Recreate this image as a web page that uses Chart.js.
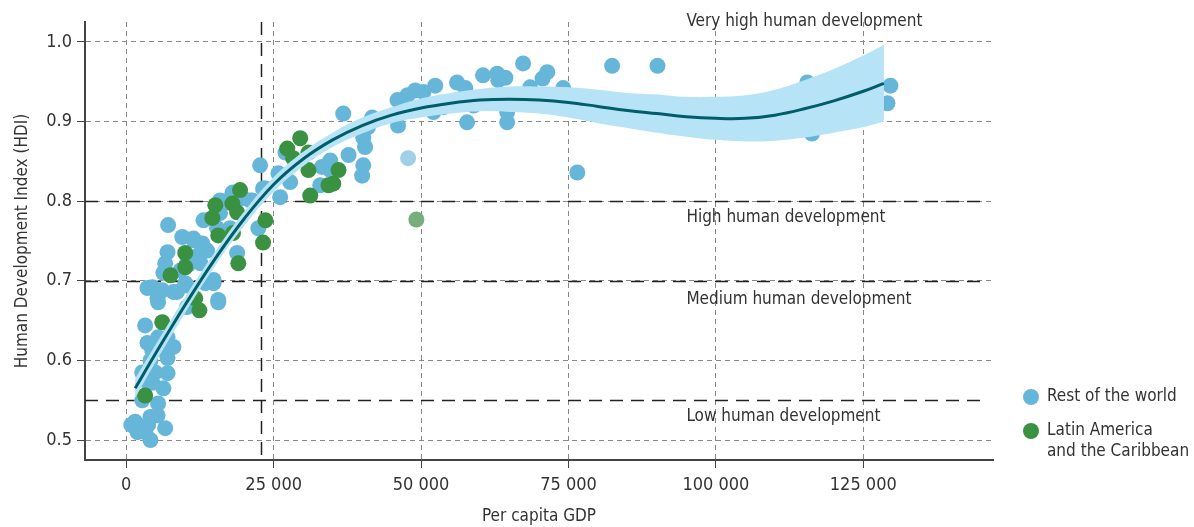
<!DOCTYPE html>
<html lang="en">
<head>
  <meta charset="UTF-8">
  <title>HDI vs per capita GDP</title>
  <script src="https://cdn.jsdelivr.net/npm/chart.js"></script>
  <style>
    html, body { margin: 0; padding: 0; background: #fff; }
    .chart-wrap { width: 1194px; height: 527px; position: relative; }
  </style>
</head>
<body>

<div class="chart-wrap">
  <canvas id="hdiChart" width="1194" height="527"></canvas>
</div>

<script>
  // Rest of the world
  const gdpRest = [5400, 3200, 3600, 5400, 7000, 8000, 6300, 4400, 7000, 2700, 4900, 7000, 3200, 6300, 4400,
    2700, 5400, 5300, 4100, 1500, 2400, 3700, 1900, 3200, 6600, 4100, 850, 4100,
    3600, 5300, 8000, 10300, 10300, 14800, 15600, 10500,
    23200, 18000, 15900, 19700, 21400, 15900, 13100, 22400, 7100, 15400, 17600, 9500, 11400, 12900, 13700,
    7000, 12200, 18800, 6600, 10300, 12600, 6300, 9200, 4400, 6100, 8600, 10000, 13400, 14800, 5300, 15600,
    27000, 22700, 25800, 27800, 32900, 23600, 26100, 18100, 21000, 11400, 13100,
    36800, 41700, 41000, 40200, 40500, 37700, 40200, 40000, 34600, 33200, 34600,
    46000, 47700, 49000, 50400, 52400, 46100, 52100,
    56100, 57500, 60500, 62900, 64300, 63100, 67300, 71400, 70600, 68500, 74100, 82400,
    57800, 64600, 64600, 58900, 53800, 90100, 115500, 116300, 129600, 129100, 76500];
  const hdiRest = [0.673, 0.644, 0.622, 0.629, 0.629, 0.617, 0.613, 0.613, 0.603, 0.585, 0.585, 0.584, 0.575, 0.565, 0.572,
    0.550, 0.546, 0.531, 0.529, 0.523, 0.516, 0.519, 0.510, 0.510, 0.515, 0.500, 0.519, 0.600,
    0.691, 0.688, 0.686, 0.694, 0.667, 0.697, 0.673, 0.720,
    0.816, 0.810, 0.801, 0.804, 0.801, 0.785, 0.776, 0.766, 0.770, 0.766, 0.766, 0.755, 0.753, 0.747, 0.738,
    0.736, 0.732, 0.735, 0.722, 0.722, 0.722, 0.710, 0.713, 0.692, 0.688, 0.686, 0.697, 0.697, 0.701, 0.678, 0.676,
    0.861, 0.845, 0.835, 0.824, 0.820, 0.816, 0.805, 0.811, 0.801, 0.751, 0.742,
    0.910, 0.905, 0.893, 0.880, 0.868, 0.858, 0.845, 0.832, 0.851, 0.843, 0.839,
    0.927, 0.933, 0.939, 0.937, 0.945, 0.895, 0.912,
    0.949, 0.942, 0.958, 0.960, 0.955, 0.952, 0.973, 0.962, 0.954, 0.943, 0.942, 0.970,
    0.899, 0.899, 0.912, 0.920, 0.918, 0.970, 0.949, 0.885, 0.945, 0.923, 0.836];

  // Latin America and the Caribbean
  const gdpLatam = [3200, 6100, 7500, 11700, 12400, 19000, 19300, 15100, 18000, 18800, 14600, 23600, 15600, 18100,
    23200, 10000, 10000, 29500, 27300, 28300, 30900, 30900, 34300, 31200, 36000, 35100];
  const hdiLatam = [0.556, 0.648, 0.707, 0.678, 0.663, 0.722, 0.814, 0.795, 0.797, 0.786, 0.779, 0.776, 0.757, 0.760,
    0.748, 0.735, 0.717, 0.879, 0.866, 0.854, 0.861, 0.839, 0.820, 0.807, 0.839, 0.822];

  // faded points
  const gdpRestFaded = [47800];
  const hdiRestFaded = [0.854];
  const gdpLatamFaded = [49200];
  const hdiLatamFaded = [0.777];

  // fitted curve and its confidence band
  const fitGdp = [1500, 5000, 10000, 15000, 20000, 25000, 30000, 35000, 40000, 45000, 50000, 55000,
    60000, 65000, 70000, 75000, 80000, 85000, 90000, 95000, 100000, 105000, 110000, 115000, 120000, 125000, 128500];
  const fitHdi = [0.565, 0.609, 0.670, 0.727, 0.778, 0.821, 0.853, 0.877, 0.895, 0.908, 0.917, 0.923,
    0.927, 0.928, 0.927, 0.924, 0.919, 0.914, 0.910, 0.906, 0.904, 0.904, 0.908, 0.916, 0.926, 0.938, 0.948];
  const fitUpper = [0.577, 0.620, 0.680, 0.736, 0.787, 0.830, 0.862, 0.886, 0.905, 0.918, 0.929, 0.936,
    0.941, 0.944, 0.944, 0.943, 0.940, 0.936, 0.934, 0.931, 0.931, 0.933, 0.940, 0.952, 0.966, 0.983, 0.996];
  const fitLower = [0.553, 0.598, 0.660, 0.718, 0.769, 0.812, 0.844, 0.868, 0.885, 0.898, 0.905, 0.910,
    0.913, 0.912, 0.910, 0.905, 0.898, 0.892, 0.886, 0.881, 0.877, 0.875, 0.876, 0.880, 0.886, 0.893, 0.900];

  const xTicks = [0, 25000, 50000, 75000, 100000, 125000];
  const yTicks = [0.5, 0.6, 0.7, 0.8, 0.9, 1.0];

  // development thresholds
  const levelCuts = [0.8, 0.7, 0.55];
  const gdpMarker = 22900;
  const levelNames = ['Very high human development', 'High human development', 'Medium human development', 'Low human development'];
  const levelLabelHdi = [1.025, 0.779, 0.677, 0.530];
  const levelLabelGdp = 95000;

  const legendNames = [['Rest of the world'], ['Latin America', 'and the Caribbean']];

  const BLUE = '#66b6d9';
  const GREEN = '#3a9142';
  const TEXT = '#333333';
  const FONT = "'Liberation Sans Narrow', 'DejaVu Sans Condensed', 'Roboto', sans-serif";

  function toPoints(xs, ys) {
    return xs.map((v, i) => ({x: v, y: ys[i]}));
  }

  function spaced(v) {
    return String(v).replace(/\B(?=(\d{3})+(?!\d))/g, ' ');
  }

  const overlay = {
    id: 'overlay',
    beforeDatasetsDraw(chart) {
      const {ctx, chartArea: a, scales: {x, y}} = chart;
      ctx.save();
      ctx.strokeStyle = '#222';
      ctx.lineWidth = 1.5;
      ctx.setLineDash([13, 8]);
      levelCuts.forEach(v => {
        const py = Math.round(y.getPixelForValue(v)) + 0.5;
        ctx.beginPath();
        ctx.moveTo(a.left, py);
        ctx.lineTo(a.right - 6, py);
        ctx.stroke();
      });
      const px = Math.round(x.getPixelForValue(gdpMarker)) + 0.5;
      ctx.beginPath();
      ctx.moveTo(px, a.top);
      ctx.lineTo(px, a.bottom);
      ctx.stroke();
      ctx.restore();
    },
    afterDraw(chart) {
      const {ctx, scales: {x, y}} = chart;
      ctx.save();
      ctx.font = '17px ' + FONT;
      ctx.fillStyle = TEXT;
      ctx.textBaseline = 'middle';
      ctx.textAlign = 'left';
      levelNames.forEach((t, i) => {
        ctx.fillText(t, x.getPixelForValue(levelLabelGdp), y.getPixelForValue(levelLabelHdi[i]));
      });

      // legend
      const colors = [BLUE, GREEN];
      let ly = 397;
      legendNames.forEach((lines, i) => {
        ctx.fillStyle = colors[i];
        ctx.beginPath();
        ctx.arc(1031, ly, 8, 0, Math.PI * 2);
        ctx.fill();
        ctx.fillStyle = TEXT;
        lines.forEach((t, j) => ctx.fillText(t, 1047, ly + j * 21));
        ly += 34;
      });
      ctx.restore();
    }
  };

  Chart.defaults.font.family = FONT;
  Chart.defaults.color = TEXT;

  new Chart(document.getElementById('hdiChart').getContext('2d'), {
    type: 'line',
    data: {
      datasets: [
        {
          label: 'Fit',
          data: toPoints(fitGdp, fitHdi),
          borderColor: '#005d69',
          borderWidth: 3,
          pointRadius: 0,
          tension: 0.4,
          fill: false,
          order: 0
        },
        {
          label: 'Upper',
          data: toPoints(fitGdp, fitUpper),
          borderWidth: 0,
          borderColor: 'rgba(0,0,0,0)',
          backgroundColor: '#b6e3f6',
          pointRadius: 0,
          tension: 0.4,
          fill: '+1',
          order: 1
        },
        {
          label: 'Lower',
          data: toPoints(fitGdp, fitLower),
          borderWidth: 0,
          borderColor: 'rgba(0,0,0,0)',
          pointRadius: 0,
          tension: 0.4,
          fill: false,
          order: 1
        },
        {
          label: 'Rest of the world',
          data: toPoints(gdpRest, hdiRest),
          showLine: false,
          pointRadius: 8,
          pointBorderWidth: 0,
          pointBackgroundColor: BLUE,
          order: 3
        },
        {
          label: 'Rest of the world (faded)',
          data: toPoints(gdpRestFaded, hdiRestFaded),
          showLine: false,
          pointRadius: 8,
          pointBorderWidth: 0,
          pointBackgroundColor: '#9fd0e8',
          order: 3
        },
        {
          label: 'Latin America and the Caribbean',
          data: toPoints(gdpLatam, hdiLatam),
          showLine: false,
          pointRadius: 8,
          pointBorderWidth: 0,
          pointBackgroundColor: GREEN,
          order: 2
        },
        {
          label: 'Latin America (faded)',
          data: toPoints(gdpLatamFaded, hdiLatamFaded),
          showLine: false,
          pointRadius: 8,
          pointBorderWidth: 0,
          pointBackgroundColor: '#78ae7b',
          order: 2
        }
      ]
    },
    options: {
      responsive: false,
      animation: false,
      layout: { padding: { top: 22, right: 201, left: 0, bottom: 0 } },
      plugins: { legend: { display: false }, tooltip: { enabled: false } },
      scales: {
        x: {
          type: 'linear',
          min: -7000,
          max: 147000,
          afterBuildTicks: s => { s.ticks = xTicks.map(v => ({value: v})); },
          afterFit: s => { s.height = 67; },
          ticks: { font: { size: 18 }, color: TEXT, padding: 7, maxRotation: 0, callback: v => spaced(v) },
          grid: { color: '#888', lineWidth: 1, tickLength: 8, tickColor: '#444', tickBorderDash: [] },
          border: { color: '#444', width: 2, dash: [5, 4] },
          title: { display: true, text: 'Per capita GDP', font: { size: 17 }, color: TEXT, padding: { top: 0, bottom: 0 } }
        },
        y: {
          min: 0.475,
          max: 1.025,
          afterBuildTicks: s => { s.ticks = yTicks.map(v => ({value: v})); },
          afterFit: s => { s.width = 85; },
          ticks: { font: { size: 18 }, color: TEXT, padding: 5, callback: v => v.toFixed(1) },
          grid: { color: '#888', lineWidth: 1, tickLength: 8, tickColor: '#444', tickBorderDash: [] },
          border: { color: '#444', width: 2, dash: [5, 4] },
          title: { display: true, text: 'Human Development Index (HDI)', font: { size: 17 }, color: TEXT, padding: { top: 12, bottom: 0 } }
        }
      }
    },
    plugins: [overlay]
  });
</script>

</body>
</html>
